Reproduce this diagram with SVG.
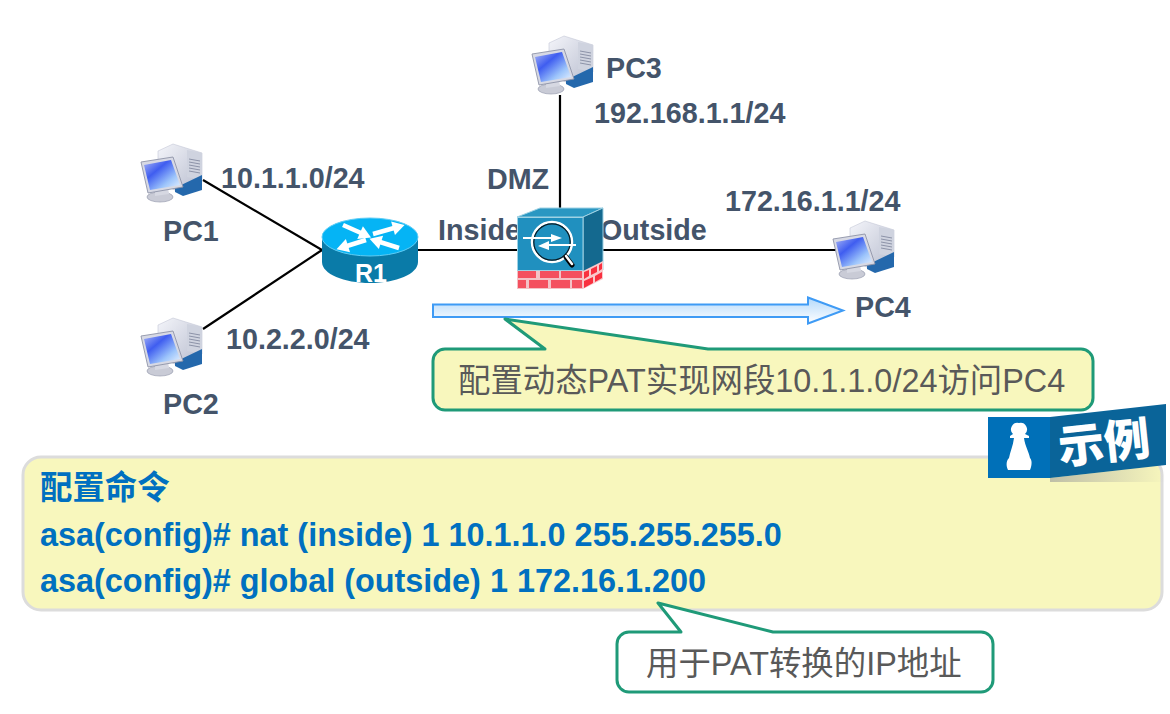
<svg xmlns="http://www.w3.org/2000/svg" width="1170" height="714" viewBox="0 0 1170 714">
<style>
text{font-family:"Liberation Sans","Noto Sans CJK SC",sans-serif}
.l{font-size:28.7px;font-weight:700;fill:#44546a}
.c{font-size:32.4px;font-weight:700;fill:#0070c0}
.n{font-size:32.4px;fill:#595959}
.w{stroke:#000;stroke-width:2.2;fill:none}
.co{stroke:#1f9a78;stroke-width:3;stroke-linejoin:round}
.ra{stroke:#fff;stroke-width:4.5;fill:none;marker-end:url(#rh)}
</style>
<defs>
<marker id="rh" markerUnits="userSpaceOnUse" markerWidth="16" markerHeight="16" refX="3" refY="8" orient="auto"><path d="M2 1 14 8 2 15Z" fill="#fff"/></marker>
<linearGradient id="scr" x1="0" y1="0" x2="1" y2="1"><stop offset="0" stop-color="#a9b6f5"/><stop offset=".35" stop-color="#3f5df0"/><stop offset=".7" stop-color="#9cc4fb"/><stop offset="1" stop-color="#eaf4ff"/></linearGradient>
<linearGradient id="tow" x1="0" y1="0" x2="1" y2="1"><stop offset="0" stop-color="#f4f5fa"/><stop offset="1" stop-color="#b6bbcd"/></linearGradient>
<linearGradient id="arr" x1="0" y1="0" x2="0" y2="1"><stop offset="0" stop-color="#b4d9fb"/><stop offset="1" stop-color="#ffffff"/></linearGradient>
<linearGradient id="sh" x1="0" y1="0" x2="1" y2="0"><stop offset="0" stop-color="#999" stop-opacity=".6"/><stop offset="1" stop-color="#999" stop-opacity="0"/></linearGradient>
<g id="pc">
<path d="M18 9 33 2 62 11V38L43 52 18 40Z" fill="url(#tow)" stroke="#c4c8d6" stroke-width=".6"/>
<path d="M47 8 62 11V38L47 35Z" fill="#cfd3df"/>
<path d="M49 17 60 19M49 20 60 22M49 23 60 25M49 26 60 28M49 29 60 31" stroke="#8d93a8" stroke-width="1"/>
<path d="M35 46 62 33V48L43 54 35 50Z" fill="#2468ac"/>
<ellipse cx="20" cy="55" rx="13" ry="5" fill="#c9cbd6" stroke="#9a9eb0" stroke-width=".7"/>
<path d="M15 47 28 45 29 52 15 54Z" fill="#d6d8e2"/>
<path d="M1 20 33 15 43 45 8 51Z" fill="#d7d9e4" stroke="#8f94a8" stroke-width=".9"/>
<path d="M4 23 31 18 40 43 10 48Z" fill="url(#scr)"/>
</g>
</defs>

<g id="connectors">
<path class="w" d="M203 180 322 250M203 329 322 250M418 250H517M603 250H836M560 95V210"/>
</g>

<g id="node-pc1"><use href="#pc" x="140" y="142"/><text class="l" x="163" y="241">PC1</text></g>
<text class="l" x="221" y="188">10.1.1.0/24</text>
<g id="node-pc2"><use href="#pc" x="140" y="316"/><text class="l" x="163" y="414">PC2</text></g>
<text class="l" x="226" y="349">10.2.2.0/24</text>
<g id="node-pc3"><use href="#pc" x="531" y="34"/><text class="l" x="606" y="78">PC3</text></g>
<text class="l" x="594" y="123">192.168.1.1/24</text>
<g id="node-pc4"><use href="#pc" x="832" y="219"/><text class="l" x="855" y="317">PC4</text></g>
<text class="l" x="725" y="211">172.16.1.1/24</text>
<text class="l" x="487" y="189">DMZ</text>
<text class="l" x="438" y="240">Inside</text>
<text class="l" x="600" y="240">Outside</text>

<g id="node-r1">
<path d="M322 237V262C322 274 344 283 370 283S418 274 418 262V237Z" fill="#0a7ba8"/>
<ellipse cx="370" cy="237" rx="48" ry="19" fill="#05b4f5" stroke="#5fcdf5" stroke-width="1"/>
<path class="ra" d="M343 225 361 233"/>
<path class="ra" d="M373 234 394 228"/>
<path class="ra" d="M366 240 347 246"/>
<path class="ra" d="M399 248 380 242"/>
<text x="355" y="282" font-size="25" font-weight="700" fill="#fff">R1</text>
</g>

<g id="node-asa">
<path d="M517 217 540 208H603L583 217Z" fill="#2a97c2" stroke="#9fd2e4" stroke-width="1"/>
<path d="M583 217 603 208V270L583 280Z" fill="#14698f" stroke="#9fd2e4" stroke-width="1"/>
<rect x="517.500" y="217.500" width="65.500" height="53" fill="#2090bf" stroke="#9fd2e4" stroke-width="1"/>
<rect x="517" y="271" width="66" height="18" fill="#f3c2c6"/>
<path d="M518 271H536V278H518ZM540 271H559V278H540ZM561 271H582V278H561ZM518 280H526V288H518ZM529 280H548V288H529ZM551 280H570V288H551ZM572 280H582V288H572Z" fill="#f4505f"/>
<path d="M583 271 603 261V279L583 289Z" fill="#f9c9cc"/>
<path d="M584 272 589 270V276L584 279ZM591 269 597 266V272L591 275ZM599 265 602 263V269L599 271ZM584 281 593 277V283L584 288ZM595 276 602 272V278L595 282Z" fill="#f9303f"/>
<circle cx="552" cy="242" r="20" fill="none" stroke="#fff" stroke-width="2.500"/>
<circle cx="552" cy="242" r="18.200" fill="#2090bf" stroke="#0a1a22" stroke-width="1.200"/>
<path d="M566 257 572 265" stroke="#000" stroke-width="5" stroke-linecap="round"/>
<path d="M566 256 572 264" stroke="#fff" stroke-width="2.500" stroke-linecap="round"/>
<path d="M523 238H552M576 245H548" fill="none" stroke="#fff" stroke-width="2"/>
<path d="M551 234 562 238 551 242ZM549 241 538 246 549 250Z" fill="#fff"/>
</g>

<path id="flow-arrow" d="M433 304.500H808V297.500L843 310.500 808 323.500V317H433Z" fill="url(#arr)" stroke="#3f9bf5" stroke-width="2"/>

<g id="callout-pat">
<path class="co" d="M445 349H545L505 319 708 349H1081A12 12 0 0 1 1093 361V398A12 12 0 0 1 1081 410H445A12 12 0 0 1 433 398V361A12 12 0 0 1 445 349Z" fill="#f8f7bd"/>
<text class="n" x="458" y="392">配置动态PAT实现网段10.1.1.0/24访问PC4</text>
</g>

<g id="panel-config">
<rect x="23" y="457" width="1139" height="153" rx="18" fill="#f8f7bd" stroke="#dcdcdc" stroke-width="3"/>
<text class="c" x="40" y="499">配置命令</text>
<text class="c" x="40" y="546">asa(config)# nat (inside) 1 10.1.1.0 255.255.255.0</text>
<text class="c" x="40" y="592">asa(config)# global (outside) 1 172.16.1.200</text>
</g>

<g id="badge">
<path d="M1050 478 1166 465V482H1050Z" fill="url(#sh)"/>
<path d="M1050 417 1166 404V465L1050 478Z" fill="#0a6499"/>
<rect x="988" y="417" width="62" height="61" fill="#0070b8"/>
<path d="M1019 423A6.500 6.500 0 0 1 1025 434L1029 436V438H1024C1025 446 1029 452 1030 458 1033 461 1031 468 1030 470H1008C1006 466 1006 461 1009 458 1010 452 1013 446 1014 438H1010V436L1013 434A6.500 6.500 0 0 1 1019 423Z" fill="#fff"/>
<text x="1060" y="464" font-size="46" font-weight="900" fill="#fff" transform="rotate(-6 1060 464)" style="font-family:'Noto Sans CJK SC',sans-serif">示例</text>
</g>

<g id="callout-ip">
<path class="co" d="M629 632H681L658 603 773 632H981A12 12 0 0 1 993 644V680A12 12 0 0 1 981 692H629A12 12 0 0 1 617 680V644A12 12 0 0 1 629 632Z" fill="#fff"/>
<text class="n" x="646" y="675">用于PAT转换的IP地址</text>
</g>
</svg>
